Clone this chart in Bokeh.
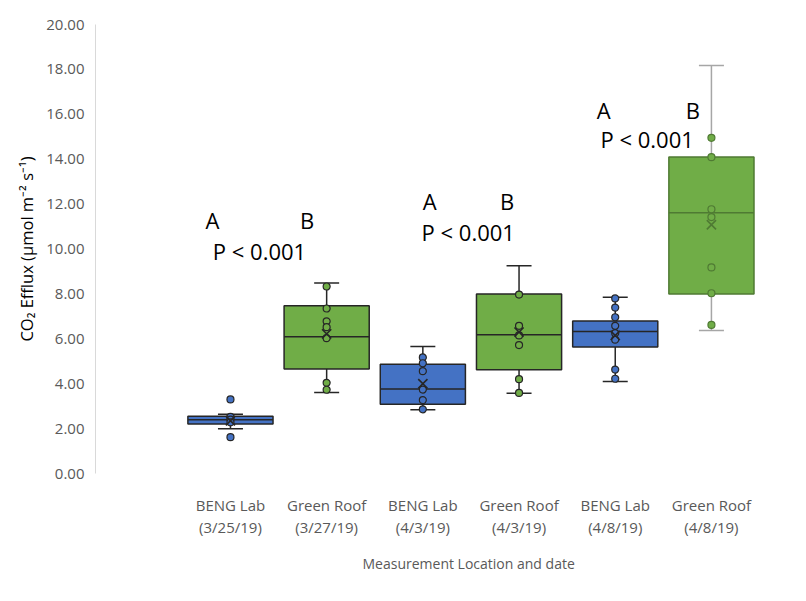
from bokeh.plotting import figure
from bokeh.models import FixedTicker, NumeralTickFormatter, Title, ColumnDataSource
from bokeh.transform import dodge
from bokeh.core.properties import value
from bokeh.embed import file_html
from bokeh.resources import INLINE

groups = ["BENG Lab\n(3/25/19)", "Green Roof\n(3/27/19)", "BENG Lab\n(4/3/19)",
          "Green Roof\n(4/3/19)", "BENG Lab\n(4/8/19)", "Green Roof\n(4/8/19)"]
q1 = [2.20, 4.66, 3.09, 4.62, 5.64, 8.00]
median = [2.39, 6.09, 3.76, 6.18, 6.32, 11.61]
q3 = [2.55, 7.47, 4.87, 7.99, 6.79, 14.10]
lower = [1.99, 3.61, 2.84, 3.58, 4.10, 6.37]
upper = [2.64, 8.48, 5.66, 9.25, 7.85, 18.17]
mean = [2.35, 6.22, 4.00, 6.30, 6.15, 11.08]
points = [
    [3.30, 2.52, 2.40, 2.28, 1.62],
    [8.33, 7.35, 6.78, 6.52, 6.03, 4.04, 3.73],
    [5.17, 4.91, 4.56, 3.74, 3.27, 2.86],
    [7.97, 6.58, 6.15, 5.72, 4.20, 3.59],
    [7.80, 7.39, 6.96, 6.58, 6.25, 5.96, 4.63, 4.22],
    [14.95, 14.09, 11.77, 11.42, 9.18, 8.03, 6.62],
]

# significance annotations
ann_text = ["A", "B", "P < 0.001", "A", "B", "P < 0.001", "A", "B", "P < 0.001"]
ann_x = [0.813, 1.797, 1.302, 3.072, 3.877, 3.472, 4.881, 5.806, 5.332]
ann_y = [11.27, 11.27, 9.90, 12.13, 12.13, 10.75, 16.21, 16.21, 14.91]

fills = ["#4472C4", "#70AD47", "#4472C4", "#70AD47", "#4472C4", "#70AD47"]
edges = ["#262626"] * 5 + ["#4f7a33"]
whisk = ["#262626"] * 5 + ["#a6a6a6"]

xs = list(range(1, len(groups) + 1))
src = ColumnDataSource(data=dict(x=xs, q1=q1, med=median, q3=q3, lo=lower, hi=upper,
                                 mean=mean, fill=fills, edge=edges, whisk=whisk))

px, py, pf, pe = [], [], [], []
for i, vals in enumerate(points):
    for v in vals:
        px.append(xs[i])
        py.append(v)
        pf.append(fills[i])
        pe.append(edges[i])
psrc = ColumnDataSource(data=dict(x=px, y=py, fill=pf, edge=pe))

p = figure(frame_width=695, frame_height=449, x_range=(-0.403, 6.822), y_range=(0, 20),
           output_backend="svg", toolbar_location=None,
           min_border_left=95, min_border_right=8, min_border_top=24, min_border_bottom=110)
p.outline_line_color = None
p.xgrid.grid_line_color = None
p.ygrid.grid_line_color = None

# whiskers
p.segment(x0="x", y0="q3", x1="x", y1="hi", line_color="whisk", line_width=1.5, source=src)
p.segment(x0="x", y0="q1", x1="x", y1="lo", line_color="whisk", line_width=1.5, source=src)
p.scatter(x="x", y="hi", marker="dash", size=25, line_color="whisk", line_width=1.5, source=src)
p.scatter(x="x", y="lo", marker="dash", size=25, line_color="whisk", line_width=1.5, source=src)

# boxes
p.vbar(x="x", width=0.885, top="q3", bottom="q1", fill_color="fill", line_color="edge",
       line_width=1.5, source=src)
p.segment(x0=dodge("x", -0.4425), y0="med", x1=dodge("x", 0.4425), y1="med",
          line_color="edge", line_width=1.5, source=src)

# points and means
p.scatter(x="x", y="y", marker="circle", size=7, fill_color="fill", line_color="edge",
          line_width=1.2, source=psrc)
p.scatter(x="x", y="mean", marker="x", size=13, line_color="edge", line_width=1.6, source=src)

p.text(x=ann_x, y=ann_y, text=ann_text, text_font=value("Open Sans"), text_font_size="22px",
       text_color="#000000", text_align="center", text_baseline="middle")

p.yaxis.ticker = FixedTicker(ticks=list(range(0, 21, 2)))
p.yaxis.formatter = NumeralTickFormatter(format="0.00")
p.yaxis.axis_line_color = "#d9d9d9"
p.yaxis.major_tick_line_color = None
p.yaxis.minor_tick_line_color = None
p.yaxis.major_label_text_color = "#595959"
p.yaxis.major_label_text_font = "Open Sans"
p.yaxis.major_label_text_font_size = "15px"
p.yaxis.major_label_standoff = 5
p.yaxis.axis_label = "CO\u2082 Efflux (\u00b5mol m\u207b\u00b2 s\u207b\u00b9)"
p.yaxis.axis_label_text_font = "Open Sans"
p.yaxis.axis_label_text_font_style = "normal"
p.yaxis.axis_label_text_font_size = "16.5px"
p.yaxis.axis_label_text_color = "#000000"
p.yaxis.axis_label_standoff = 5

p.xaxis.ticker = FixedTicker(ticks=xs)
p.xaxis.major_label_overrides = {x: g for x, g in zip(xs, groups)}
p.xaxis.axis_line_color = None
p.xaxis.major_tick_line_color = None
p.xaxis.minor_tick_line_color = None
p.xaxis.major_label_text_color = "#595959"
p.xaxis.major_label_text_font = "Open Sans"
p.xaxis.major_label_text_font_size = "15px"
p.xaxis.major_label_text_line_height = 1.1
p.xaxis.major_label_standoff = 15

p.add_layout(Title(text="Measurement Location and date", align="left", offset=267,
                   text_font="Open Sans", text_font_size="14px", text_font_style="normal",
                   text_color="#595959", standoff=25), "below")

open("out.html", "w").write(file_html(p, INLINE))
